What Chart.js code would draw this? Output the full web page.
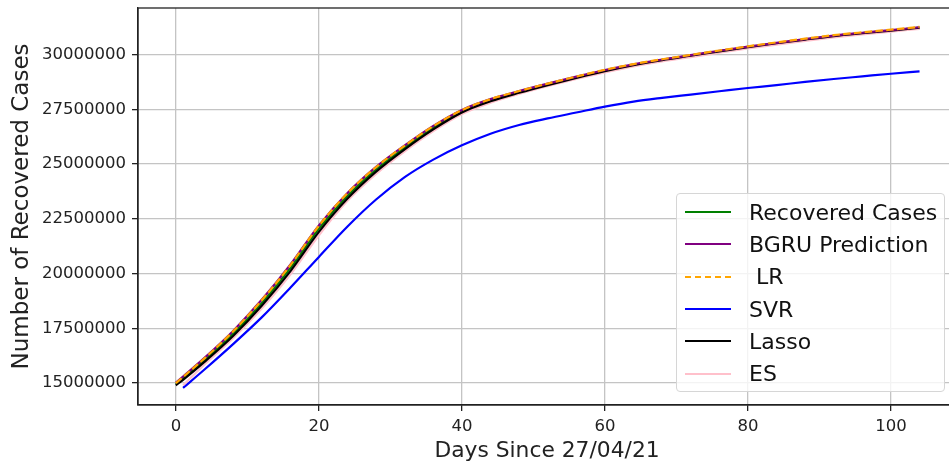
<!DOCTYPE html>
<html>
<head>
<meta charset="utf-8">
<title>Recovered cases predictions</title>
<script src="https://cdn.jsdelivr.net/npm/chart.js@4.4.0/dist/chart.umd.min.js"></script>
<style>
  html, body { margin: 0; padding: 0; background: #fff; overflow: hidden; }
  #wrap { position: relative; width: 949px; height: 466px; overflow: hidden; }
  #chart { display: block; }
  #legend {
    position: absolute; left: 676px; top: 193px; width: 269px; height: 199px;
    box-sizing: border-box; border: 1px solid #d6d6d6; border-radius: 4px;
    background: rgba(255,255,255,0.8); padding-top: 2px;
    font-family: "DejaVu Sans", sans-serif; font-size: 22px; color: #111;
  }
  .row { display: flex; align-items: center; height: 32.3px; }
  .swatch { width: 46px; margin-left: 8px; margin-right: 18px; height: 0; border-top: 2.2px solid; }
  .swatch.dash { border-top-style: dashed; }
  .lab { white-space: pre; }
</style>
</head>
<body>
<div id="wrap">
  <canvas id="chart" width="957" height="466"></canvas>
  <div id="legend"></div>
</div>
<script>
// days since 27/04/21
const days = [0, 1, 4, 8, 12, 16, 20, 24, 28, 32, 36, 40, 44, 48, 52, 56, 60, 64, 68, 72, 76, 80, 84, 88, 92, 96, 100, 104];

const recovered = [14950000, 15220000, 16050000, 17250000, 18650000, 20250000, 22050000, 23550000, 24750000, 25750000, 26650000, 27400000, 27900000, 28280000, 28620000, 28950000, 29250000, 29520000, 29740000, 29940000, 30140000, 30330000, 30500000, 30670000, 30830000, 30960000, 31080000, 31200000];
const bgru = [15020000, 15300000, 16150000, 17380000, 18800000, 20400000, 22200000, 23680000, 24870000, 25850000, 26740000, 27470000, 27960000, 28330000, 28670000, 28990000, 29290000, 29550000, 29770000, 29970000, 30170000, 30360000, 30530000, 30700000, 30860000, 30990000, 31110000, 31240000];
const lr = [15000000, 15280000, 16130000, 17360000, 18780000, 20380000, 22180000, 23670000, 24860000, 25840000, 26730000, 27460000, 27960000, 28330000, 28670000, 28990000, 29300000, 29560000, 29780000, 29980000, 30180000, 30370000, 30550000, 30720000, 30880000, 31010000, 31130000, 31260000];
const svr = [null, 14780000, 15620000, 16780000, 18000000, 19350000, 20760000, 22150000, 23380000, 24400000, 25200000, 25850000, 26380000, 26780000, 27080000, 27350000, 27620000, 27850000, 28020000, 28170000, 28320000, 28470000, 28600000, 28750000, 28880000, 29000000, 29120000, 29230000];
const lasso = [14900000, 15150000, 15970000, 17150000, 18530000, 20100000, 21900000, 23420000, 24650000, 25670000, 26580000, 27350000, 27860000, 28250000, 28600000, 28930000, 29240000, 29510000, 29740000, 29940000, 30140000, 30330000, 30510000, 30680000, 30840000, 30970000, 31090000, 31220000];
const es = [null, 14900000, 15850000, 17050000, 18400000, 19950000, 21750000, 23320000, 24550000, 25580000, 26500000, 27280000, 27800000, 28200000, 28550000, 28880000, 29180000, 29450000, 29680000, 29880000, 30080000, 30270000, 30450000, 30620000, 30780000, 30920000, 31040000, 31170000];

const xTicks = [0, 20, 40, 60, 80, 100];
const yTicks = [15000000, 17500000, 20000000, 22500000, 25000000, 27500000, 30000000];

function pts(vals) {
  return days.map((d, i) => ({ x: d, y: vals[i] }));
}

const series = [
  { label: 'Recovered Cases', data: recovered, color: '#008000', order: 6 },
  { label: 'BGRU Prediction', data: bgru, color: '#800080', order: 2 },
  { label: ' LR', data: lr, color: '#FFA500', order: 1, dash: [7.5, 3.3] },
  { label: 'SVR', data: svr, color: '#0000FF', order: 5 },
  { label: 'Lasso', data: lasso, color: '#000000', order: 3 },
  { label: 'ES', data: es, color: '#FFC0CB', order: 4 }
];

// box around the plot like matplotlib spines
const frame = {
  id: 'frame',
  afterDatasetsDraw(chart) {
    const a = chart.chartArea, ctx = chart.ctx;
    ctx.save();
    ctx.strokeStyle = '#222';
    ctx.lineWidth = 1.3;
    ctx.strokeRect(a.left, a.top, a.right - a.left, a.bottom - a.top);
    ctx.restore();
  }
};

const font = { family: '"DejaVu Sans", sans-serif', size: 16.5 };

new Chart(document.getElementById('chart').getContext('2d'), {
  type: 'line',
  data: {
    datasets: series.map(s => ({
      label: s.label,
      data: pts(s.data),
      borderColor: s.color,
      backgroundColor: s.color,
      borderWidth: 2.2,
      borderDash: s.dash || [],
      pointRadius: 0,
      fill: false,
      cubicInterpolationMode: 'monotone',
      order: s.order
    }))
  },
  plugins: [frame],
  options: {
    responsive: false,
    animation: false,
    layout: { padding: { top: 8, right: 1, left: 0, bottom: 0 } },
    plugins: {
      legend: { display: false },
      tooltip: { enabled: false }
    },
    scales: {
      x: {
        type: 'linear',
        min: -5.3,
        max: 109.1,
        afterBuildTicks: s => { s.ticks = xTicks.map(v => ({ value: v })); },
        afterFit: s => { s.height = 61; s.paddingLeft = 0; s.paddingRight = 0; },
        grid: { color: '#c4c4c4', lineWidth: 1.3, tickColor: '#222', tickLength: 6 },
        border: { color: '#222', width: 1.3 },
        ticks: { color: '#222', font: font, padding: 6, maxRotation: 0 },
        title: { display: true, text: 'Days Since 27/04/21', color: '#222',
          font: { family: '"DejaVu Sans", sans-serif', size: 21.8 }, padding: { top: 0, bottom: 2 } }
      },
      y: {
        min: 14000000,
        max: 32120000,
        afterBuildTicks: s => { s.ticks = yTicks.map(v => ({ value: v })); },
        afterFit: s => { s.width = 138; s.paddingTop = 0; s.paddingBottom = 0; },
        grid: { color: '#c4c4c4', lineWidth: 1.3, tickColor: '#222', tickLength: 6 },
        border: { color: '#222', width: 1.3 },
        ticks: { color: '#222', font: font, padding: 6, callback: v => String(v) },
        title: { display: true, text: 'Number of Recovered Cases', color: '#222',
          font: { family: '"DejaVu Sans", sans-serif', size: 23 }, padding: { top: 8, bottom: 0 } }
      }
    }
  }
});

// legend box in lower right, like the original
const legend = document.getElementById('legend');
series.forEach(s => {
  const row = document.createElement('div');
  row.className = 'row';
  const sw = document.createElement('span');
  sw.className = 'swatch' + (s.dash ? ' dash' : '');
  sw.style.borderTopColor = s.color;
  const lab = document.createElement('span');
  lab.className = 'lab';
  lab.textContent = s.label;
  row.appendChild(sw);
  row.appendChild(lab);
  legend.appendChild(row);
});
</script>
</body>
</html>
